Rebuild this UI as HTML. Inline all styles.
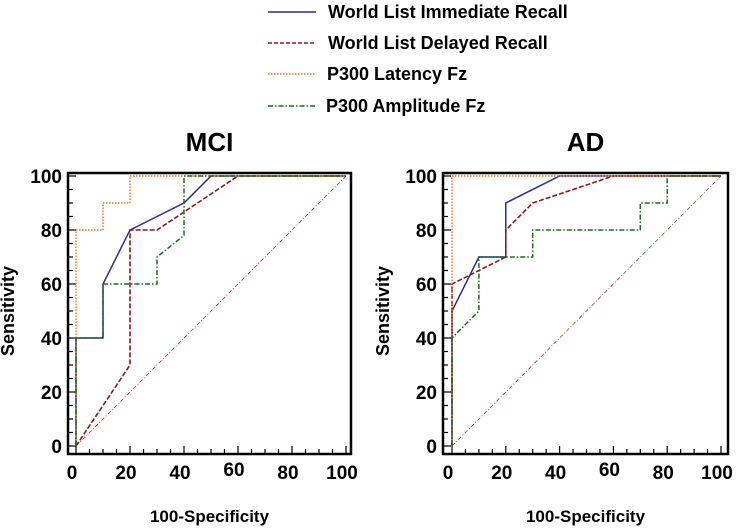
<!DOCTYPE html>
<html><head><meta charset="utf-8"><style>
body{margin:0;background:#fff}
svg{display:block;font-family:"Liberation Sans",Arial,sans-serif;font-weight:bold}
</style></head><body>
<svg id="s" width="742" height="529" viewBox="0 0 742 529" xmlns="http://www.w3.org/2000/svg">
<g font-size="18">
<line x1="268" y1="12" x2="316" y2="12" stroke="#2b2f8c" stroke-width="1.5"/>
<text x="328" y="18">World List Immediate Recall</text>
<line x1="268" y1="43" x2="316" y2="43" stroke="#8b1a1a" stroke-width="1.5" stroke-dasharray="4,2"/>
<text x="328" y="49">World List Delayed Recall</text>
<line x1="268" y1="74" x2="316" y2="74" stroke="#f07a28" stroke-width="1.5" stroke-dasharray="1.5,1.5"/>
<text x="327" y="80">P300 Latency Fz</text>
<line x1="268" y1="106" x2="316" y2="106" stroke="#1d6b1d" stroke-width="1.5" stroke-dasharray="5,2,1.5,2"/>
<text x="326" y="112">P300 Amplitude Fz</text>
</g>
<g id="charts"></g>
</svg>
<script>
const ticks=[0,20,40,60,80,100];
const seriesNames=["immediate","delayed","latency","amplitude"];
const mciImmX=[0,0,10,10,20,40,50,100], mciImmY=[0,40,40,60,80,90,100,100];
const mciDelX=[0,20,20,30,60,100], mciDelY=[0,30,80,80,100,100];
const mciLatX=[0,0,0,10,10,20,20,100], mciLatY=[0,40,80,80,90,90,100,100];
const mciAmpX=[0,0,10,10,30,30,40,40,100], mciAmpY=[0,40,40,60,60,70,78,100,100];
const adImmX=[0,0,10,20,20,40,100], adImmY=[0,50,70,70,90,100,100];
const adDelX=[0,0,20,20,30,60,100], adDelY=[0,60,70,80,90,100,100];
const adLatX=[0,0,100], adLatY=[0,100,100];
const adAmpX=[0,0,10,10,30,30,70,70,80,80,100], adAmpY=[0,40,50,70,70,80,80,90,90,100,100];
const styles={immediate:["#2b2f8c","none",1.5],delayed:["#8b1a1a","5,2",1.6],latency:["#f07a28","1.5,1.5",1.5],amplitude:["#1d6b1d","5,2,1.5,2",1.5]};
const NS="http://www.w3.org/2000/svg";
const root=document.getElementById('charts');
function mk(t,a,p){const e=document.createElementNS(NS,t);for(const k in a)e.setAttribute(k,a[k]);p.appendChild(e);return e;}
function chart(name,title,bl,br,x0,x1,data){
  const g=mk('g',{},root);
  
  
  const y0=446,y1=176,top=173,bot=454;
  const sx=v=>x0+(x1-x0)*v/100, sy=v=>y0+(y1-y0)*v/100;
  const t=mk('text',{x:(bl+br)/2,y:151,'text-anchor':'middle','font-size':26},g);t.textContent=title;
  
  
  for(let v=0;v<=100;v+=5){
    const maj=v%20===0;
    mk('line',{x1:bl,x2:bl+(maj?8:5),y1:sy(v),y2:sy(v),stroke:'#000','stroke-width':1.2},g);
    mk('line',{y1:bot,y2:bot-(maj?8:5),x1:sx(v),x2:sx(v),stroke:'#000','stroke-width':1.2},g);
  }
  ticks.forEach(v=>{
    const a=mk('text',{x:bl-6,y:sy(v)+7,'text-anchor':'end','font-size':19},g);a.textContent=v;
    
    
    const b=mk('text',{x:sx(v)-4,y:479+(v===60?-3:0),'text-anchor':'middle','font-size':19},g);b.textContent=v;
    
    
  });
  const yl=mk('text',{transform:`translate(${bl-54},${(y0+y1)/2}) rotate(-90)`,'text-anchor':'middle','font-size':18},g);yl.textContent='Sensitivity';
  
  
  const xl=mk('text',{x:(bl+br)/2,y:522,'text-anchor':'middle','font-size':17},g);xl.textContent='100-Specificity';
  
  
  const d=mk('line',{x1:sx(0),y1:sy(0),x2:sx(100),y2:sy(100),stroke:'#a03030','stroke-width':0.8,'stroke-dasharray':'4,2,1,2'},g);
  
  
  seriesNames.forEach((s,i)=>{
    const [xs,ys]=data[i];const st=styles[s];
    const p=mk('polyline',{points:xs.map((x,j)=>sx(x)+','+sy(ys[j])).join(' '),fill:'none',stroke:st[0],'stroke-width':st[2],'stroke-dasharray':st[1]},g);
    
    
  });
  const box=mk('rect',{x:bl,y:top,width:br-bl,height:bot-top,fill:'none',stroke:'#000','stroke-width':2.5},g);
  
  
}
chart('mci','MCI',68,351,76,346,[[mciImmX,mciImmY],[mciDelX,mciDelY],[mciLatX,mciLatY],[mciAmpX,mciAmpY]]);
chart('ad','AD',443,728,452,721,[[adImmX,adImmY],[adDelX,adDelY],[adLatX,adLatY],[adAmpX,adAmpY]]);
</script>
</body></html>
